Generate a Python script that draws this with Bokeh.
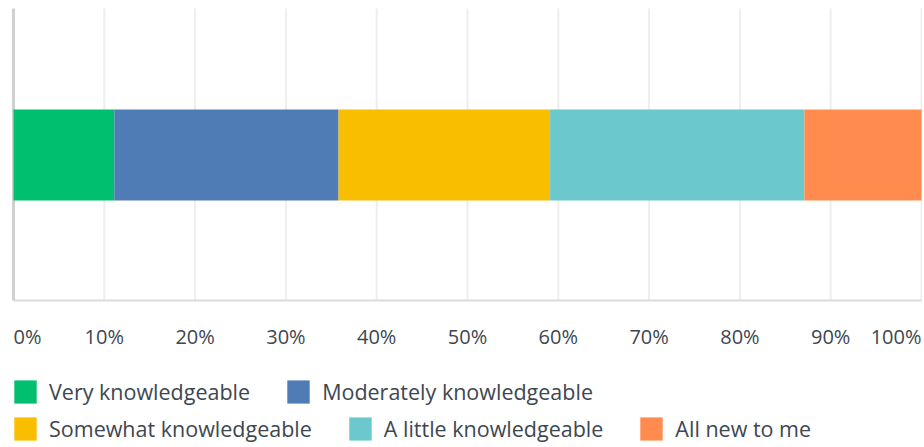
from bokeh.plotting import figure
from bokeh.models import ColumnDataSource, Legend, LegendItem, Range1d
from bokeh.core.properties import value
from bokeh.embed import file_html
from bokeh.resources import INLINE

# ---- data ----
categories = ["Very knowledgeable", "Moderately knowledgeable", "Somewhat knowledgeable",
              "A little knowledgeable", "All new to me"]
shares = [11.1, 24.7, 23.3, 28.0, 12.9]
colors = ["#00bf6f", "#507cb6", "#f9be00", "#6bc8cd", "#ff8b4f"]
tick_values = [0, 10, 20, 30, 40, 50, 60, 70, 80, 90, 100]
tick_labels = ["0%", "10%", "20%", "30%", "40%", "50%", "60%", "70%", "80%", "90%", "100%"]

# ---- layout constants ----
W, H = 922, 445
FONT = "Open Sans"
TEXT_COLOR = "#3d4750"
GRID_TOP = 1.61
AXIS_Y = -1.6
LABEL_Y = -1.99

p = figure(width=W, height=H, output_backend="svg", toolbar_location=None,
           x_range=Range1d(-1.432, 100.11), y_range=Range1d(-3.192, 1.698),
           x_axis_location=None, y_axis_location=None, min_border=0,
           outline_line_color=None)
p.xgrid.visible = False
p.ygrid.visible = False

# grid lines
p.segment(x0=tick_values[1:], x1=tick_values[1:], y0=GRID_TOP, y1=AXIS_Y,
          line_color="#eeeeee", line_width=2)
# axis lines
p.segment(x0=[0], x1=[100], y0=[AXIS_Y], y1=[AXIS_Y], line_color="#dcdcdc", line_width=2)
p.segment(x0=[0], x1=[0], y0=[GRID_TOP], y1=[AXIS_Y], line_color="#d0d0d0", line_width=3)

# stacked bars
lefts, rights = [], []
acc = 0.0
for s in shares:
    lefts.append(acc)
    acc += s
    rights.append(acc)

renderers = []
for cat, l, r, c in zip(categories, lefts, rights, colors):
    rr = p.hbar(y=[0], left=[l], right=[r], height=1.0, fill_color=c, line_color=None)
    renderers.append(rr)

# tick labels
aligns = ["left"] + ["center"] * (len(tick_values) - 2) + ["right"]
tsrc = ColumnDataSource(dict(x=tick_values, y=[LABEL_Y] * len(tick_values),
                             text=tick_labels, align=aligns))
p.text(x="x", y="y", text="text", source=tsrc, text_align="align", text_baseline="middle",
       text_font=value(FONT), text_font_size="20px", text_color=TEXT_COLOR)

def make_legend(idx, loc):
    lg = Legend(items=[LegendItem(label=categories[i], renderers=[renderers[i]]) for i in idx],
                orientation="horizontal", location=loc, padding=0, margin=0,
                border_line_color=None, background_fill_alpha=0,
                glyph_width=28, glyph_height=29, label_standoff=10, spacing=34,
                label_text_font=FONT, label_text_font_size="21.5px",
                label_text_color=TEXT_COLOR, label_height=29)
    p.add_layout(lg, "center")

make_legend([0, 1], (11, 39))
make_legend([2, 3, 4], (11, 2))

open("out.html", "w").write(file_html(p, INLINE))
